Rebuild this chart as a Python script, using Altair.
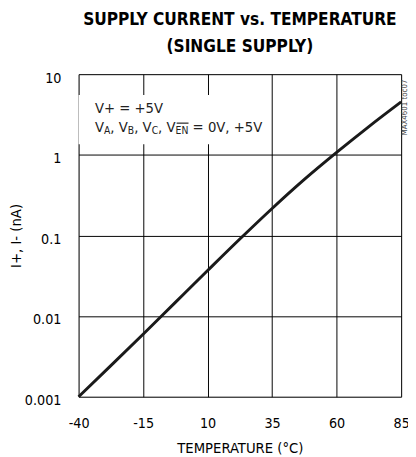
import altair as alt
import pandas as pd

# ---- data ----
temps = [-40, -27.5, -15, -2.5, 10, 22.5, 35, 47.5, 60, 72.5, 85]
current = [0.001, 0.00243, 0.00596, 0.0148, 0.0367, 0.0902, 0.216, 0.495, 1.07, 2.24, 4.53]

x_ticks = [-40, -15, 10, 35, 60, 85]
y_ticks = [0.001, 0.01, 0.1, 1, 10]

title_lines = ["SUPPLY CURRENT vs. TEMPERATURE", "(SINGLE SUPPLY)"]
x_title = "TEMPERATURE (°C)"
y_title = "I+, I- (nA)"

line1 = "V+ = +5V"
# pieces of the second annotation line: (text, dx, subscript?)
line2_pieces = [
    ("V", 0.0, False), ("A", 9.2, True), (", V", 15.7, False),
    ("B", 33.5, True), (", V", 40.0, False), ("C", 57.8, True),
    (", V", 64.4, False), ("EN", 82.2, True), ("= 0V, +5V", 99.6, False),
]
watermark = "MAX4601 toc07"

FONT = "DejaVu Sans Condensed, Liberation Sans Narrow, sans-serif"

X_DOM = [-40, 85]
Y_DOM = [0.001, 10]

xs = alt.Scale(domain=X_DOM, nice=False, zero=False)
ys = alt.Scale(type="log", domain=Y_DOM, nice=False)

df = pd.DataFrame({"t": temps, "v": current})

x_axis = alt.Axis(
    values=x_ticks, labelExpr="'' + datum.value", grid=True, gridColor="black",
    gridWidth=1, gridOpacity=1, ticks=False, tickSize=0,
    domain=False, labelFlush=False, labelFont=FONT, labelFontSize=14.5, labelColor="black",
    labelBaseline="middle", labelPadding=27,
    title=x_title, titleFont=FONT, titleFontSize=15, titleFontWeight="normal",
    titleColor="black", titleY=52, titleBaseline="middle",
)
y_axis = alt.Axis(
    values=y_ticks, format="~g", grid=True, gridColor="black", gridWidth=1,
    gridOpacity=1, ticks=False, tickSize=0, domain=False,
    labelFlush=False, labelFont=FONT, labelFontSize=14.5, labelColor="black",
    labelBaseline="middle", labelPadding=18, labelOffset=4,
    title=y_title, titleFont=FONT, titleFontSize=15, titleFontWeight="normal",
    titleColor="black", titleX=-64, titleY=164.5, titleAngle=270,
    titleBaseline="middle", titleAlign="center",
)

# white box behind the annotation (interrupts the grid)
box = alt.Chart(pd.DataFrame({"t": [-40], "t2": [30], "v": [1.35], "v2": [5.5]})).mark_rect(
    color="white"
).encode(
    x=alt.X("t:Q", scale=xs, axis=x_axis),
    x2="t2",
    y=alt.Y("v:Q", scale=ys, axis=y_axis),
    y2="v2",
)

curve = alt.Chart(df).mark_line(color="#1a1a1a", strokeWidth=3, interpolate="monotone").encode(
    x=alt.X("t:Q", scale=xs),
    y=alt.Y("v:Q", scale=ys),
)

layers = [box, curve]

# annotation line 1
layers.append(
    alt.Chart(pd.DataFrame({"t": [-33.65], "v": [3.8], "s": [line1]})).mark_text(
        align="left", baseline="middle", font=FONT, fontSize=15, color="#222"
    ).encode(x=alt.X("t:Q", scale=xs), y=alt.Y("v:Q", scale=ys), text="s:N")
)

# annotation line 2 in pieces (subscripts)
for txt, dx, sub in line2_pieces:
    layers.append(
        alt.Chart(pd.DataFrame({"t": [-33.65], "v": [2.2], "s": [txt]})).mark_text(
            align="left", baseline="middle", font=FONT,
            fontSize=10.5 if sub else 15, dx=dx, dy=4 if sub else 0, color="#222"
        ).encode(x=alt.X("t:Q", scale=xs), y=alt.Y("v:Q", scale=ys), text="s:N")
    )

# overline over EN
layers.append(
    alt.Chart(pd.DataFrame({"t": [-2.0], "t2": [2.6], "v": [2.47]})).mark_rule(
        color="#222", strokeWidth=1.2
    ).encode(x=alt.X("t:Q", scale=xs), x2="t2", y=alt.Y("v:Q", scale=ys))
)

# small rotated code on the right edge
layers.append(
    alt.Chart(pd.DataFrame({"t": [86.5], "v": [3.86], "s": [watermark]})).mark_text(
        angle=270, align="center", baseline="middle", font=FONT, fontSize=8, color="#444"
    ).encode(x=alt.X("t:Q", scale=xs), y=alt.Y("v:Q", scale=ys), text="s:N")
)

chart = alt.layer(*layers).properties(
    width=329,
    height=329,
    autosize=alt.AutoSizeParams(type="none"),
    padding={"left": 72, "top": 63, "right": 7, "bottom": 57},
    title=alt.TitleParams(
        text=title_lines, font=FONT, fontSize=17.5, fontWeight="bold", color="black",
        anchor="middle", frame="group", baseline="bottom", offset=-3, lineHeight=28,
    ),
).configure_view(
    stroke="black", strokeWidth=3
).configure(background="white")

chart.save("out.html", embed_options={"renderer": "svg", "actions": False})
